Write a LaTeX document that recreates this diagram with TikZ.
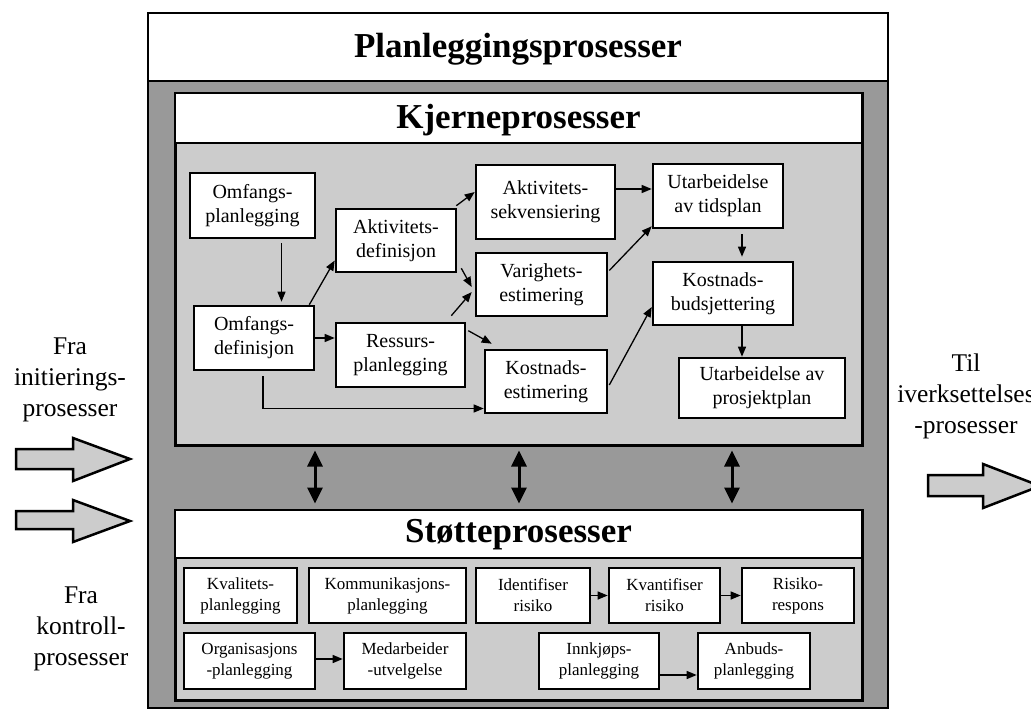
\documentclass[tikz,border=0pt]{standalone}
\usepackage{fontspec}
\setmainfont{Liberation Serif}
\usetikzlibrary{arrows.meta}
\definecolor{framegray}{HTML}{999999}
\definecolor{panelgray}{HTML}{CCCCCC}

\begin{document}
\begin{tikzpicture}[x=1pt,y=-1pt,
  frame/.style={draw, line width=2.5pt, fill=framegray, inner sep=0pt},
  panel/.style={draw, line width=3pt, fill=panelgray, inner sep=0pt},
  band/.style={draw, line width=2.5pt, fill=white, inner sep=0pt,
    font=\bfseries\fontsize{35}{40}\selectfont},
  kbox/.style={draw, line width=2.6pt, fill=white, align=center, inner sep=0pt,
    font=\fontsize{20}{24}\selectfont},
  sbox/.style={draw, line width=2.6pt, fill=white, align=center, inner sep=0pt,
    font=\fontsize{17}{21}\selectfont},
  side/.style={align=center, inner sep=0pt, font=\fontsize{25.5}{31}\selectfont},
  flow/.style={line width=1.3pt, -{Triangle[length=10pt,width=8pt]}},
  link/.style={line width=3pt, {Triangle[length=16pt,width=15pt]}-{Triangle[length=16pt,width=15pt]},
    shorten <=4pt, shorten >=5pt},
  bigarrow/.style={draw, line width=2.5pt, fill=panelgray, line join=miter},
]
\useasboundingbox (0,0) rectangle (1031,712);

% outer frame and its title band
\node[frame, minimum width=740pt, minimum height=695pt] (outer) at (518,360.5) {};
\node[band, minimum width=740pt, minimum height=68pt] (outert) at (518,47) {};
\node[font=\bfseries\fontsize{35}{40}\selectfont, inner sep=0pt] (outerl) at (518,49) {Planleggingsprosesser};

% core processes panel
\node[panel, minimum width=687pt, minimum height=352pt] (core) at (518.5,269) {};
\node[band, minimum width=687pt, minimum height=50pt] (coret) at (518.5,118) {};
\node[font=\bfseries\fontsize{35}{40}\selectfont, inner sep=0pt] (corel) at (518.5,120) {Kjerneprosesser};

% support processes panel
\node[panel, minimum width=687pt, minimum height=190pt] (supp) at (518.5,605) {};
\node[band, minimum width=687pt, minimum height=48pt] (suppt) at (518.5,534) {};
\node[font=\bfseries\fontsize{35}{40}\selectfont, inner sep=0pt] (suppl) at (518.5,535) {Støtteprosesser};

% core process steps
\node[kbox, minimum width=125pt, minimum height=65pt] (op) at (252.5,205.5) {Omfangs-\\planlegging};
\node[kbox, minimum width=120pt, minimum height=64pt] (od) at (254,338) {Omfangs-\\definisjon};
\node[kbox, minimum width=120pt, minimum height=63pt] (ad) at (396,240.5) {Aktivitets-\\definisjon};
\node[kbox, minimum width=129pt, minimum height=64pt] (rp) at (400.5,355) {Ressurs-\\planlegging};
\node[kbox, minimum width=139pt, minimum height=74pt] (as) at (545.5,202) {Aktivitets-\\sekvensiering};
\node[kbox, minimum width=131pt, minimum height=63pt] (ve) at (541.5,284.5) {Varighets-\\estimering};
\node[kbox, minimum width=122pt, minimum height=63pt] (ke) at (546,381.5) {Kostnads-\\estimering};
\node[kbox, minimum width=130pt, minimum height=64pt] (ut) at (718,196) {Utarbeidelse\\av tidsplan};
\node[kbox, minimum width=140pt, minimum height=63pt] (kb) at (723,293.5) {Kostnads-\\budsjettering};
\node[kbox, minimum width=166pt, minimum height=60pt] (up) at (762,388) {Utarbeidelse av\\prosjektplan};

% core flow
\draw[flow, shorten <=4pt, shorten >=3pt] ([xshift=29pt]op.south) -- ([xshift=27.5pt]od.north);
\draw[flow] ([xshift=-6pt]od.north east) -- ([yshift=-20pt]ad.west);
\draw[flow] (od.east) -- (od.east -| rp.west);
\draw[flow] ([xshift=-1pt,yshift=2pt]ad.north east) -- ([yshift=10pt]as.west);
\draw[flow] ([xshift=4pt,yshift=5pt]ad.south east) -- ([xshift=-3pt,yshift=-2.5pt]ve.west);
\draw[flow] ([xshift=-15pt,yshift=6pt]rp.north east) -- ([xshift=-3pt,yshift=-7.5pt]ve.west);
\draw[flow] ([xshift=2pt,yshift=-9pt]rp.north east) -- ([xshift=8pt,yshift=5pt]ke.north west);
\draw[flow] ([xshift=9pt,yshift=-5pt]od.south) |- ([yshift=-27pt]ke.west);
\draw[flow] ([yshift=13pt]as.east) -- ([yshift=13pt]as.east -| ut.west);
\draw[flow] ([xshift=1pt,yshift=14pt]ve.east) -- ([yshift=3pt]ut.south west);
\draw[flow] ([xshift=1pt,yshift=-3.5pt]ke.east) -- ([yshift=-13.5pt]kb.west);
\draw[flow, shorten <=5pt, shorten >=4pt] ([xshift=24pt]ut.south) -- ([xshift=19pt]kb.north);
\draw[flow] ([xshift=19pt]kb.south) -- ([xshift=-20pt]up.north);

% support process steps
\node[sbox, minimum width=113pt, minimum height=55pt] (kv) at (240.5,595.5) {Kvalitets-\\planlegging};
\node[sbox, minimum width=157pt, minimum height=55pt] (ko) at (387.5,595.5) {Kommunikasjons-\\planlegging};
\node[sbox, minimum width=114pt, minimum height=55pt] (ir) at (533,595.5) {Identifiser\\risiko};
\node[sbox, minimum width=111pt, minimum height=55pt] (kr) at (664.5,595.5) {Kvantifiser\\risiko};
\node[sbox, minimum width=112pt, minimum height=55pt] (rr) at (798,595.5) {Risiko-\\respons};
\node[sbox, minimum width=131pt, minimum height=56pt] (og) at (249.5,661) {Organisasjons\\-planlegging};
\node[sbox, minimum width=122pt, minimum height=56pt] (mu) at (405,661) {Medarbeider\\-utvelgelse};
\node[sbox, minimum width=120pt, minimum height=56pt] (ip) at (599,661) {Innkjøps-\\planlegging};
\node[sbox, minimum width=112pt, minimum height=56pt] (ap) at (754,661) {Anbuds-\\planlegging};

% support flow
\draw[flow] (ir.east) -- (kr.west);
\draw[flow] (kr.east) -- (rr.west);
\draw[flow] ([yshift=2pt]og.east) -- ([yshift=2pt]og.east -| mu.west);
\draw[flow] ([yshift=-14pt]ip.east) -- ([yshift=-14pt]ip.east -| ap.west);

% exchange between core and support
\draw[link] (core.south -| 315,0) -- (supp.north -| 315,0);
\draw[link] (core.south -| 519,0) -- (supp.north -| 519,0);
\draw[link] (core.south -| 732,0) -- (supp.north -| 732,0);

% inputs and output
\node[side] (fin) at (70,380) {Fra\\initierings-\\prosesser};
\node[side] (fko) at (81,629) {Fra\\kontroll-\\prosesser};
\node[side] (til) at (966,396) {Til\\iverksettelses\\-prosesser};

\path[bigarrow] (16,449) -- (73,449) -- (73,438) -- (130,459) -- (73,481) -- (73,469) -- (16,469) -- cycle;
\path[bigarrow] (16,511) -- (73,511) -- (73,500) -- (130,521) -- (73,542) -- (73,529) -- (16,529) -- cycle;
\path[bigarrow] (928,475) -- (983,475) -- (983,464) -- (1040,486) -- (983,508) -- (983,496) -- (928,496) -- cycle;
\end{tikzpicture}
\end{document}
